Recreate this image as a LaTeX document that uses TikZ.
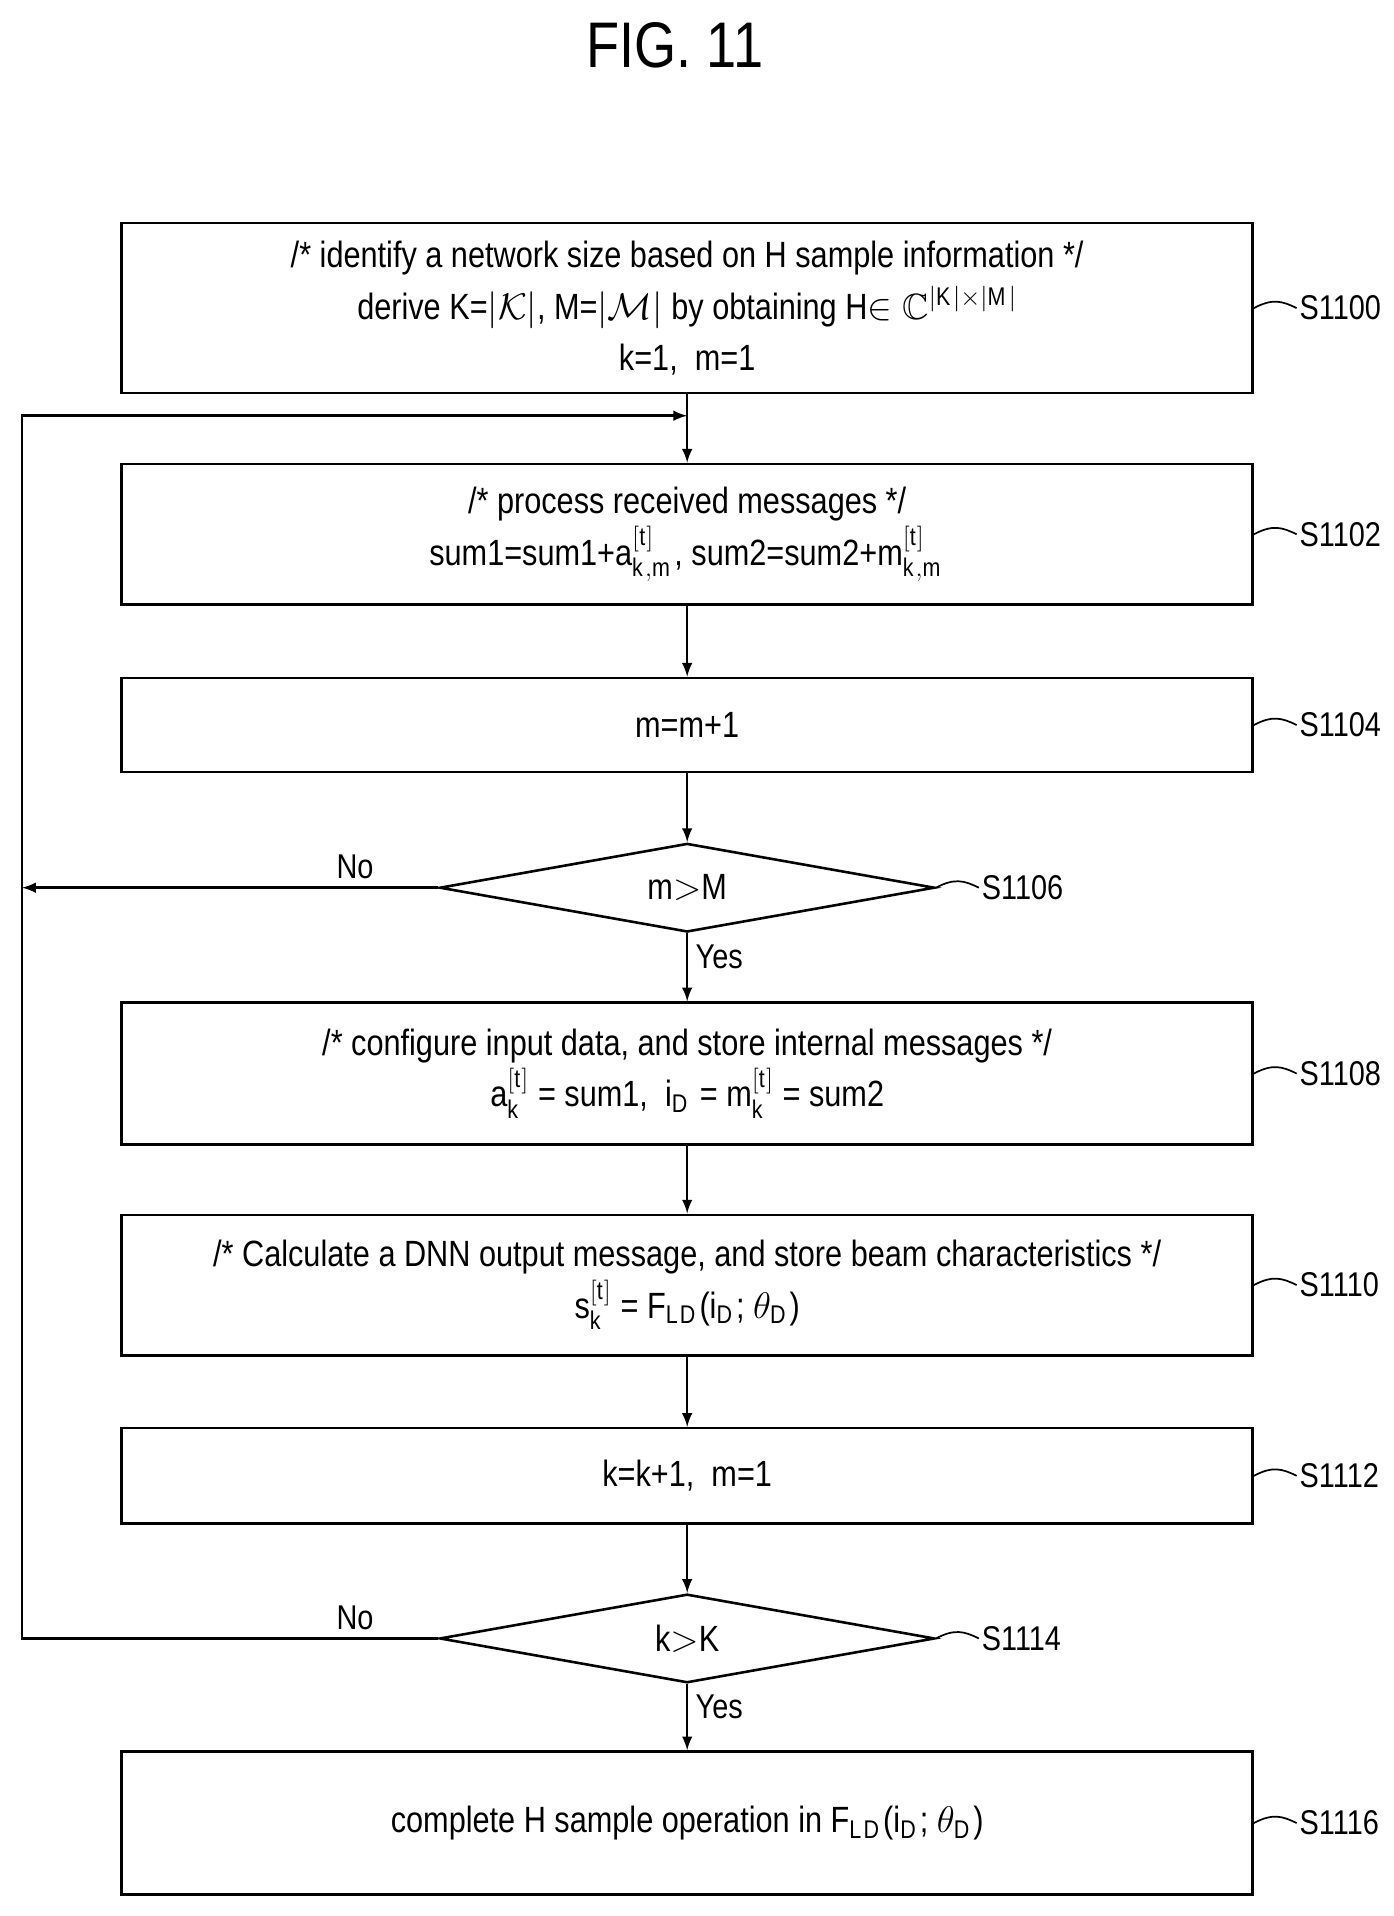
\documentclass[tikz,border=0pt]{standalone}
\usepackage{fontspec}
\setmainfont[FakeStretch=0.84]{Liberation Sans}
\usepackage{amssymb}
\usetikzlibrary{shapes.geometric}

\tikzstyle{block} = [draw, line width=1.2pt, rectangle, minimum width=18.5cm, align=center, font=\fontsize{17}{24}\selectfont]
\tikzstyle{decision} = [draw, line width=1.2pt, diamond, aspect=5.6, minimum width=8.1cm, minimum height=1.45cm, inner sep=0pt, font=\fontsize{17}{20}\selectfont]
\tikzstyle{steplbl} = [font=\fontsize{16}{18}\selectfont, anchor=west, inner sep=1pt]
\tikzstyle{lbl} = [font=\fontsize{16}{18}\selectfont]

\begin{document}
\begin{tikzpicture}[x=0.02cm,y=-0.02cm,>=latex,line width=1.2pt]
\useasboundingbox (0,0) rectangle (1140,1567);
\node[font=\fontsize{30}{34}\selectfont] (title) at (552,37) {FIG. 11};

\node[block,minimum height=2.78cm] (b0) at (562,252) {/* identify a network size based on H sample information */\\
derive K=$|\mathcal{K}|$, M=$|\mathcal{M}|$ by obtaining H$\in\mathbb{C}^{|\mathrm{K}|\times|\mathrm{M}|}$\\ k=1,\ \ m=1};
\node[block,minimum height=2.3cm] (b2) at (562,437) {/* process received messages */\\
sum1=sum1+a$^{[\mathrm{t}]}_{\mathrm{k,m}}$, sum2=sum2+m$^{[\mathrm{t}]}_{\mathrm{k,m}}$};
\node[block,minimum height=1.54cm] (b4) at (562,593) {m=m+1};
\node[decision] (d6) at (562,726) {m$>$M};
\node[block,minimum height=2.32cm] (b8) at (562,878) {/* configure input data, and store internal messages */\\
a$^{[\mathrm{t}]}_{\mathrm{k}}$ = sum1,\ \ i$_\mathrm{D}$ = m$^{[\mathrm{t}]}_{\mathrm{k}}$ = sum2};
\node[block,minimum height=2.3cm] (b10) at (562,1051) {/* Calculate a DNN output message, and store beam characteristics */\\
s$^{[\mathrm{t}]}_{\mathrm{k}}$ = F$_\mathrm{LD}$(i$_\mathrm{D}$; $\theta_\mathrm{D}$)};
\node[block,minimum height=1.56cm] (b12) at (562,1207) {k=k+1,\ \ m=1};
\node[decision] (d14) at (562,1340) {k$>$K};
\node[block,minimum height=2.34cm] (b16) at (562,1491) {complete H sample operation in F$_\mathrm{LD}$(i$_\mathrm{D}$; $\theta_\mathrm{D}$)};

\coordinate (join) at (562,340);
\coordinate (left6) at (18,726);

% step labels
\foreach \n/\t in {b0/S1100,b2/S1102,b4/S1104,b8/S1108,b10/S1110,b12/S1112,b16/S1116,d6/S1106,d14/S1114}{
  \draw[line width=0.8pt] (\n.east) .. controls +(15,-8) and +(-12,-6) .. +(35,0) node[steplbl] {\t};
}

\draw[->] (b0) -- (b2);
\draw[->] (b2) -- (b4);
\draw[->] (b4) -- (d6);
\draw[->] (d6) -- node[lbl,right,pos=0.35]{Yes} (b8);
\draw[->] (b8) -- (b10);
\draw[->] (b10) -- (b12);
\draw[->] (b12) -- (d14);
\draw[->] (d14) -- node[lbl,right,pos=0.35]{Yes} (b16);
\draw[->] (d6.west) -- node[lbl,above,pos=0.2]{No} (left6);
\draw[->] (d14.west) -- node[lbl,above,pos=0.2]{No} (18,1340) |- (join);
\end{tikzpicture}
\end{document}
